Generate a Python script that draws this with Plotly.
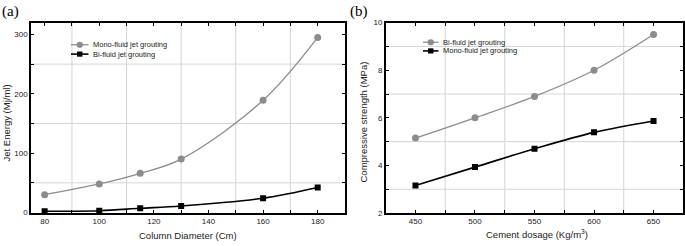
import plotly.graph_objects as go

# Panel (a)
diam = [80, 100, 115, 130, 160, 180]
mono_energy = [30, 48, 66, 90, 189, 295]
bi_energy = [2, 3, 7, 11, 24, 42]
xa_ticks = [80, 90, 100, 110, 120, 130, 140, 150, 160, 170, 180]
xa_labels = ["80", "", "100", "", "120", "", "140", "", "160", "", "180"]
xa_grid = [90, 110, 130, 150, 170]
ya_ticks = [0, 50, 100, 150, 200, 250, 300]
ya_labels = ["0", "", "100", "", "200", "", "300"]
ya_grid = [50, 150, 250]

# Panel (b)
dosage = [450, 500, 550, 600, 650]
bi_strength = [5.15, 6.0, 6.9, 8.0, 9.5]
mono_strength = [3.16, 3.93, 4.70, 5.39, 5.87]
xb_ticks = [450, 475, 500, 525, 550, 575, 600, 625, 650]
xb_labels = ["450", "", "500", "", "550", "", "600", "", "650"]
xb_grid = [475, 525, 575, 625]
yb_ticks = [2, 3, 4, 5, 6, 7, 8, 9, 10]
yb_labels = ["2", "", "4", "", "6", "", "8", "", "10"]
yb_grid = [3, 5, 7, 9]

GRAY = "#8c8c8c"
BLACK = "#000000"
GRID = "#d4d4d4"
FONT = "Liberation Sans, Arial, sans-serif"
W, H = 685, 246

fig = go.Figure()

fig.add_trace(go.Scatter(x=diam, y=mono_energy, mode="lines+markers",
                         line=dict(color=GRAY, width=1.3, shape="spline", smoothing=1),
                         marker=dict(symbol="circle", size=7, color=GRAY),
                         name="Mono-fluid jet grouting", xaxis="x", yaxis="y", showlegend=False))
fig.add_trace(go.Scatter(x=diam, y=bi_energy, mode="lines+markers",
                         line=dict(color=BLACK, width=1.6, shape="spline", smoothing=1),
                         marker=dict(symbol="square", size=6, color=BLACK),
                         name="Bi-fluid jet grouting", xaxis="x", yaxis="y", showlegend=False))
fig.add_trace(go.Scatter(x=dosage, y=bi_strength, mode="lines+markers",
                         line=dict(color=GRAY, width=1.3, shape="spline", smoothing=1),
                         marker=dict(symbol="circle", size=7, color=GRAY),
                         name="Bi-fluid jet grouting", xaxis="x2", yaxis="y2", showlegend=False))
fig.add_trace(go.Scatter(x=dosage, y=mono_strength, mode="lines+markers",
                         line=dict(color=BLACK, width=1.6, shape="spline", smoothing=1),
                         marker=dict(symbol="square", size=6, color=BLACK),
                         name="Mono-fluid jet grouting", xaxis="x2", yaxis="y2", showlegend=False))

ydom = [1 - 217 / H, 1 - 19.3 / H]
xdom_a = [31 / W, 345 / W]
xdom_b = [385.7 / W, 683.3 / W]

def ax(domain, rng, tickvals, ticktext, anchor):
    return dict(domain=domain, range=rng, tickmode="array", tickvals=tickvals, ticktext=ticktext,
                showline=True, linecolor="black", linewidth=1.5, mirror="allticks",
                ticks="inside", ticklen=3.5, tickwidth=1, tickcolor="black",
                showgrid=False, zeroline=False, anchor=anchor,
                tickfont=dict(family=FONT, size=8, color="#222"))

fig.update_layout(
    width=W, height=H, margin=dict(l=0, r=0, t=0, b=0),
    paper_bgcolor="white", plot_bgcolor="white", showlegend=False,
    xaxis=ax(xdom_a, [75, 190], xa_ticks, xa_labels, "y"),
    yaxis=ax(ydom, [-1, 320], ya_ticks, ya_labels, "x"),
    xaxis2=ax(xdom_b, [425, 675], xb_ticks, xb_labels, "y2"),
    yaxis2=ax(ydom, [2, 10], yb_ticks, yb_labels, "x2"),
)

shapes = []
for xr, yr, xg, yg in (("x", "y", xa_grid, ya_grid), ("x2", "y2", xb_grid, yb_grid)):
    for v in xg:
        shapes.append(dict(type="line", layer="below", xref=xr, yref=yr + " domain", x0=v, x1=v, y0=0, y1=1,
                           line=dict(color=GRID, width=1)))
    for v in yg:
        shapes.append(dict(type="line", layer="below", xref=xr + " domain", yref=yr, x0=0, x1=1, y0=v, y1=v,
                           line=dict(color=GRID, width=1)))

def px(x):
    return x / W

def py(y):
    return 1 - y / H

ann = []
serif = dict(family="Liberation Serif, Times New Roman, serif", size=15, color="black")
ann.append(dict(text="(a)", x=px(10), y=py(8), xref="paper", yref="paper", showarrow=False,
                xanchor="center", yanchor="middle", font=serif))
ann.append(dict(text="(b)", x=px(359), y=py(8), xref="paper", yref="paper", showarrow=False,
                xanchor="center", yanchor="middle", font=serif))
tf = dict(family=FONT, size=9.5, color="#222")
ann.append(dict(text="Column Diameter (Cm)", x=px(188), y=py(240), xref="paper", yref="paper",
                xanchor="center", yanchor="middle", showarrow=False, font=tf))
ann.append(dict(text="Cement dosage (Kg/m<sup>3</sup>)", x=px(537), y=py(239), xref="paper", yref="paper",
                xanchor="center", yanchor="middle", showarrow=False, font=tf))
ann.append(dict(text="Jet Energy (Mj/ml)", x=px(6), y=py(124), xref="paper", yref="paper",
                xanchor="center", yanchor="middle", showarrow=False, textangle=-90, font=tf))
ann.append(dict(text="Compressive strength (MPa)", x=px(363), y=py(123), xref="paper", yref="paper",
                xanchor="center", yanchor="middle", showarrow=False, textangle=-90, font=tf))

lf = dict(family=FONT, size=7.5, color="#222")
def legend_item(x0, x1, y, label, color, symbol, lw):
    shapes.append(dict(type="line", xref="paper", yref="paper", x0=px(x0), x1=px(x1), y0=py(y), y1=py(y),
                       line=dict(color=color, width=lw)))
    cx = (x0 + x1) / 2
    r = 3.2 if symbol == "circle" else 2.7
    shapes.append(dict(type="circle" if symbol == "circle" else "rect", xref="paper", yref="paper",
                       x0=px(cx - r), x1=px(cx + r), y0=py(y - r), y1=py(y + r),
                       fillcolor=color, line=dict(color=color, width=0)))
    ann.append(dict(text=label, x=px(x1 + 2), y=py(y), xref="paper", yref="paper", xanchor="left",
                    yanchor="middle", showarrow=False, font=lf))

legend_item(71, 88.5, 42.3, "Mono-fluid jet grouting", GRAY, "circle", 1.3)
legend_item(71, 88.5, 52, "Bi-fluid jet grouting", BLACK, "square", 1.6)
legend_item(423, 438.5, 39.7, "Bi-fluid jet grouting", GRAY, "circle", 1.3)
legend_item(423, 438.5, 48.7, "Mono-fluid jet grouting", BLACK, "square", 1.6)

fig.update_layout(annotations=ann, shapes=shapes)
fig.write_html("out.html", config={"displayModeBar": False},
               post_script="document.body.style.margin='0';document.body.style.overflow='hidden';")
